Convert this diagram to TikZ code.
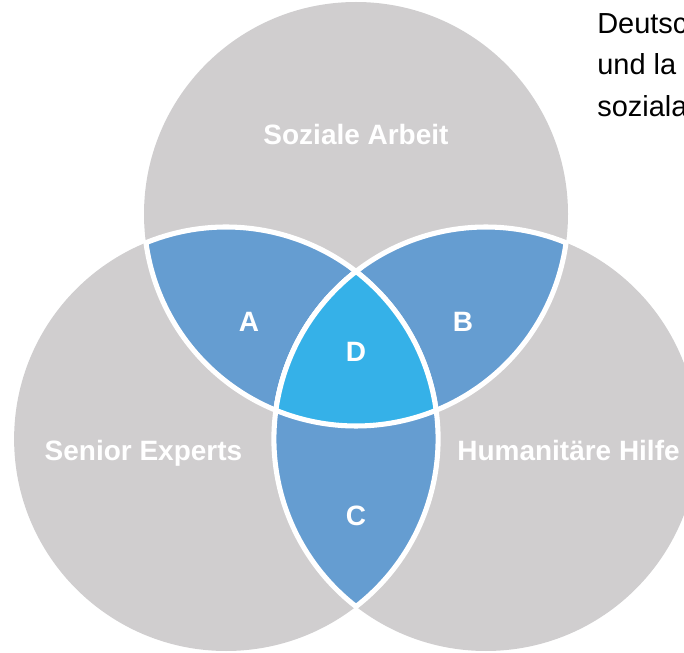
\documentclass[tikz,border=0pt]{standalone}
\usepackage{fontspec}
\setmainfont{Liberation Sans}
\definecolor{venngray}{HTML}{D0CECF}
\definecolor{lensblue}{HTML}{659DD1}
\definecolor{coreblue}{HTML}{35B1E8}
\newcommand\vennr{212}
\tikzstyle{circ} = [fill=venngray]
\tikzstyle{lens} = [fill=lensblue, draw=white, line width=3.6pt]
\tikzstyle{core} = [fill=coreblue, draw=white, line width=3.6pt]
\tikzstyle{setname} = [anchor=base, inner sep=0pt, text=white, font=\bfseries\fontsize{19.9pt}{24pt}\selectfont]
\tikzstyle{intro} = [anchor=base west, inner sep=0pt, text=black, font=\fontsize{20.6pt}{24pt}\selectfont]

\begin{document}
\begin{tikzpicture}[x=0.025cm, y=0.025cm]
	    \useasboundingbox (0,0) rectangle (684,652);
	    \clip (0,0) rectangle (684,652);

	    \coordinate (top) at (356,438);
	    \coordinate (left) at (226.1,213);
	    \coordinate (right) at (485.9,213);

	    \fill[circ] (top) circle[radius=\vennr];
	    \fill[circ] (left) circle[radius=\vennr];
	    \fill[circ] (right) circle[radius=\vennr];

	    % pairwise overlaps
	    \draw[lens] (top) ++(187.79:\vennr) arc[start angle=112.21, end angle=7.79, radius=\vennr] arc[start angle=292.21, end angle=187.79, radius=\vennr] -- cycle;
	    \draw[lens] (top) ++(352.21:\vennr) arc[start angle=352.21, end angle=247.79, radius=\vennr] arc[start angle=172.21, end angle=67.79, radius=\vennr] -- cycle;
	    \draw[lens] (left) ++(-52.21:\vennr) arc[start angle=-52.21, end angle=52.21, radius=\vennr] arc[start angle=127.79, end angle=232.21, radius=\vennr] -- cycle;
	    % common part
	    \draw[core] (left) ++(52.21:\vennr) arc[start angle=52.21, end angle=7.79, radius=\vennr] arc[start angle=292.21, end angle=247.79, radius=\vennr] arc[start angle=172.21, end angle=127.79, radius=\vennr] -- cycle;

	    \node[setname] (soziale) at (356,507) {Soziale Arbeit};
	    \node[setname] (senior) at (143.5,191) {Senior Experts};
	    \node[setname] (humanitaer) at (568.5,191) {Humanitäre Hilfe};
	    \node[setname] (regA) at (249,320) {A};
	    \node[setname] (regB) at (463,320) {B};
	    \node[setname] (regC) at (356,127) {C};
	    \node[setname] (regD) at (356,290) {D};

	    \node[intro] (intro1) at (597,618) {Deutsc};
	    \node[intro] (intro2) at (597,577) {und la};
	    \node[intro] (intro3) at (597,535) {soziala};
	\end{tikzpicture}
\end{document}
